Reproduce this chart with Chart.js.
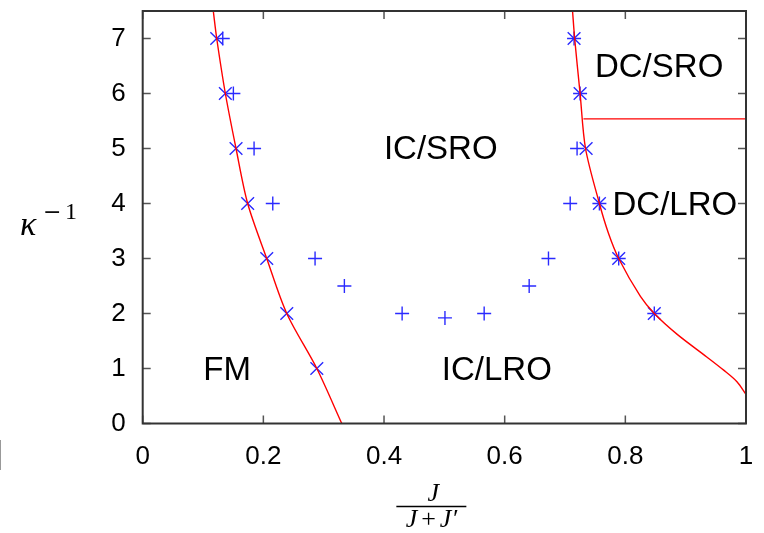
<!DOCTYPE html>
<html>
<head>
<meta charset="utf-8">
<script src="https://cdn.jsdelivr.net/npm/chart.js@4"></script>
<style>
  html, body { margin: 0; padding: 0; background: #fff; }
  canvas { display: block; }
</style>
</head>
<body>
<canvas id="chart" width="764" height="533"></canvas>
<script>
// axes
const xTicks = [0, 0.2, 0.4, 0.6, 0.8, 1];
const yTicks = [0, 1, 2, 3, 4, 5, 6, 7];

// red boundary, left (FM / IC)
const leftLineX = [0.117, 0.1227, 0.137, 0.1547, 0.174, 0.2056, 0.2388, 0.2886, 0.330];
const leftLineY = [7.5, 7, 6, 5, 4, 3, 2, 1, 0];

// red boundary, right (IC / DC)
const rightLineX = [0.7125, 0.716, 0.725, 0.734, 0.757, 0.772, 0.789, 0.825, 0.848, 0.886, 0.935, 0.963, 0.985, 1.0];
const rightLineY = [7.5, 7, 6, 5, 4, 3.46, 3, 2.31, 2, 1.62, 1.21, 0.97, 0.76, 0.53];

// red horizontal SRO / LRO line in DC phase
const dcLineX = [0.7306, 1.0];
const dcLineY = [5.54, 5.54];

// x markers
const crossX = [0.1227, 0.137, 0.1547, 0.174, 0.2056, 0.2388, 0.2886, 0.715, 0.725, 0.735, 0.757, 0.789, 0.848];
const crossY = [7, 6, 5, 4, 3, 2, 1, 7, 6, 5, 4, 3, 2];

// + markers
const plusX = [0.1327, 0.1503, 0.1846, 0.2156, 0.2857, 0.3343, 0.43, 0.501, 0.566, 0.6406, 0.6726, 0.7086, 0.72, 0.725, 0.715, 0.757, 0.789, 0.848];
const plusY = [7, 6, 5, 4, 3, 2.5, 2, 1.92, 2, 2.5, 3, 4, 5, 6, 7, 4, 3, 2];

// phase names
const regionNames = ['IC/SRO', 'DC/SRO', 'DC/LRO', 'IC/LRO', 'FM'];
const regionX = [0.494, 0.856, 0.882, 0.587, 0.14];
const regionY = [5.03, 6.52, 4.0, 1.0, 1.0];

const pts = (xs, ys) => xs.map((v, i) => ({ x: v, y: ys[i] }));

const sans = '"Liberation Sans", Arial, sans-serif';
const serif = '"Liberation Serif", "Times New Roman", serif';

const decor = {
  id: 'decor',
  afterDatasetsDraw(chart) {
    const { ctx, chartArea: a, scales: { x, y } } = chart;
    ctx.save();

    // inward ticks on all four sides
    ctx.strokeStyle = '#555';
    ctx.lineWidth = 1.5;
    ctx.beginPath();
    xTicks.forEach(v => {
      const px = x.getPixelForValue(v);
      ctx.moveTo(px, a.bottom); ctx.lineTo(px, a.bottom - 8);
      ctx.moveTo(px, a.top); ctx.lineTo(px, a.top + 8);
    });
    yTicks.forEach(v => {
      const py = y.getPixelForValue(v);
      ctx.moveTo(a.left, py); ctx.lineTo(a.left + 8, py);
      ctx.moveTo(a.right, py); ctx.lineTo(a.right - 8, py);
    });
    ctx.stroke();

    ctx.strokeStyle = '#333';
    ctx.lineWidth = 2;
    ctx.strokeRect(a.left, a.top, a.right - a.left, a.bottom - a.top);

    // phase labels
    ctx.fillStyle = '#000';
    ctx.font = '33px ' + sans;
    ctx.textAlign = 'center';
    ctx.textBaseline = 'alphabetic';
    regionNames.forEach((t, i) => {
      ctx.fillText(t, x.getPixelForValue(regionX[i]), y.getPixelForValue(regionY[i]) + 11.8);
    });

    // y title: kappa^-1
    ctx.textAlign = 'left';
    ctx.font = 'italic 34px ' + serif;
    ctx.fillText('\u03ba', 20, 235);
    ctx.font = '22px "DejaVu Serif", serif';
    ctx.fillText('\u2212', 43, 219);
    ctx.font = '24px ' + serif;
    ctx.fillText('1', 65, 219);

    // x title: J / (J + J')
    const cx = (x.getPixelForValue(0.4) + x.getPixelForValue(0.6)) / 2 - 13;
    ctx.textAlign = 'center';
    ctx.font = 'italic 26px ' + serif;
    ctx.fillText('J', cx + 2, 501);
    ctx.strokeStyle = '#000';
    ctx.lineWidth = 1.6;
    ctx.beginPath();
    ctx.moveTo(cx - 35, 506.5); ctx.lineTo(cx + 35, 506.5);
    ctx.stroke();
    const parts = [['J', 'italic 26px ', 4], ['+', '26px ', 4], ['J\u2032', 'italic 26px ', 0]];
    let w = 0;
    parts.forEach(p => { ctx.font = p[1] + serif; w += ctx.measureText(p[0]).width + p[2]; });
    let sx = cx - w / 2;
    ctx.textAlign = 'left';
    parts.forEach(p => {
      ctx.font = p[1] + serif;
      ctx.fillText(p[0], sx, 527);
      sx += ctx.measureText(p[0]).width + p[2];
    });

    // stray mark at left edge
    ctx.strokeStyle = '#999';
    ctx.lineWidth = 1;
    ctx.beginPath();
    ctx.moveTo(0.5, 440); ctx.lineTo(0.5, 470);
    ctx.stroke();

    ctx.restore();
  }
};

const red = '#ff0000';
const blue = '#2a2aff';

new Chart(document.getElementById('chart').getContext('2d'), {
  type: 'scatter',
  data: {
    datasets: [
      { data: pts(leftLineX, leftLineY), showLine: true, borderColor: red, borderWidth: 1.4, pointRadius: 0, tension: 0.3, fill: false },
      { data: pts(rightLineX, rightLineY), showLine: true, borderColor: red, borderWidth: 1.4, pointRadius: 0, tension: 0.3, fill: false },
      { data: pts(dcLineX, dcLineY), showLine: true, borderColor: red, borderWidth: 1.2, pointRadius: 0, fill: false },
      { data: pts(crossX, crossY), pointStyle: 'crossRot', pointRadius: 9, borderColor: blue, borderWidth: 1.4, backgroundColor: blue },
      { data: pts(plusX, plusY), pointStyle: 'cross', pointRadius: 7, borderColor: blue, borderWidth: 1.4, backgroundColor: blue },
    ],
  },
  options: {
    responsive: false,
    animation: false,
    layout: { padding: { top: 11, right: 18, left: 0, bottom: 0 } },
    plugins: { legend: { display: false }, tooltip: { enabled: false } },
    scales: {
      x: {
        type: 'linear', min: 0, max: 1,
        afterBuildTicks: s => { s.ticks = xTicks.map(v => ({ value: v })); },
        afterFit: s => { s.height = 109.5; s.paddingLeft = 0; s.paddingRight = 0; },
        grid: { display: false, drawTicks: false },
        border: { display: false },
        ticks: { color: '#000', font: { family: sans, size: 26 }, padding: 18, maxRotation: 0, callback: v => String(v) },
      },
      y: {
        type: 'linear', min: 0, max: 7.5,
        afterBuildTicks: s => { s.ticks = yTicks.map(v => ({ value: v })); },
        afterFit: s => { s.width = 142.7; s.paddingTop = 0; s.paddingBottom = 0; },
        grid: { display: false, drawTicks: false },
        border: { display: false },
        ticks: { color: '#000', font: { family: sans, size: 26 }, padding: 17, callback: v => String(v) },
      },
    },
  },
  plugins: [decor],
});
</script>
</body>
</html>
